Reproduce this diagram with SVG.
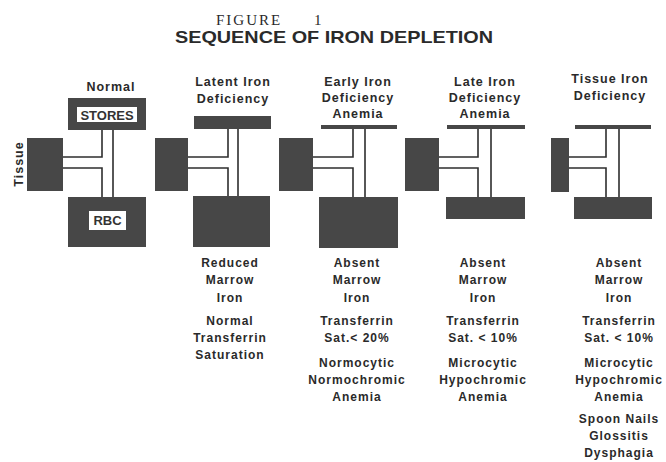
<svg xmlns="http://www.w3.org/2000/svg" width="666" height="462" viewBox="0 0 666 462">
<style>
.blk{fill:#474747}
.lbl{fill:#fff}
.ln{fill:none;stroke:#2e2e2e;stroke-width:1.6}
text{font-family:"Liberation Sans",Arial,sans-serif;fill:#2a2a2a;text-anchor:middle}
.h{font-size:12.5px;font-weight:bold;letter-spacing:1px}
.b{font-size:12px;font-weight:bold;letter-spacing:1px}
.in{font-size:13px;font-weight:bold;fill:#333}
</style>
<rect width="666" height="462" fill="#fff"/>
<text x="216" y="25" style="font-family:'Liberation Serif',serif;font-size:15px;text-anchor:start;letter-spacing:2px">FIGURE<tspan x="314">1</tspan></text>
<text x="334" y="43" style="font-size:17px;font-weight:bold" textLength="318" lengthAdjust="spacingAndGlyphs">SEQUENCE OF IRON DEPLETION</text>
<text class="h" transform="translate(23,164) rotate(-90)">Tissue</text>

<g id="connectors">
<path class="ln" d="M102,130 V157 H63 M63,168 H102 V197 M113,130 V197"/>
<path class="ln" d="M228,129 V157 H188 M188,168 H228 V196 M238,129 V196"/>
<path class="ln" d="M353,129 V157 H313 M313,168 H353 V197 M365,129 V197"/>
<path class="ln" d="M478,129 V157 H439 M439,168 H478 V197 M491,129 V197"/>
<path class="ln" d="M606,129 V157 H569 M569,168 H606 V197 M619,129 V197"/>
</g>

<g id="normal">
<text class="h" x="111" y="91">Normal</text>
<rect id="stores1" class="blk" x="68" y="98" width="78" height="32"/>
<rect class="lbl" x="77" y="107" width="60" height="15"/>
<text class="in" x="107" y="119.5">STORES</text>
<rect id="tissue1" class="blk" x="27" y="138" width="36" height="53"/>
<rect id="rbc1" class="blk" x="68" y="197" width="78" height="50"/>
<rect class="lbl" x="89" y="211" width="37" height="19"/>
<text class="in" x="107.5" y="225">RBC</text>
</g>

<g id="latent">
<text class="h" x="233" y="86">Latent Iron</text>
<text class="h" x="233" y="103">Deficiency</text>
<rect class="blk" x="194" y="116" width="77" height="13"/>
<rect class="blk" x="155" y="138" width="33" height="53"/>
<rect class="blk" x="193" y="196" width="77" height="51"/>
<text class="b" x="230" y="267">Reduced</text>
<text class="b" x="230" y="284">Marrow</text>
<text class="b" x="230" y="302">Iron</text>
<text class="b" x="230" y="325">Normal</text>
<text class="b" x="230" y="342">Transferrin</text>
<text class="b" x="230" y="359">Saturation</text>
</g>

<g id="early">
<text class="h" x="358" y="86">Early Iron</text>
<text class="h" x="358" y="102">Deficiency</text>
<text class="h" x="358" y="118">Anemia</text>
<rect class="blk" x="321" y="125" width="76" height="4"/>
<rect class="blk" x="279" y="138" width="34" height="53"/>
<rect class="blk" x="319" y="197" width="79" height="51"/>
<text class="b" x="357" y="267">Absent</text>
<text class="b" x="357" y="284">Marrow</text>
<text class="b" x="357" y="302">Iron</text>
<text class="b" x="357" y="325">Transferrin</text>
<text class="b" x="357" y="342">Sat.&lt; 20%</text>
<text class="b" x="357" y="367">Normocytic</text>
<text class="b" x="357" y="384">Normochromic</text>
<text class="b" x="357" y="401">Anemia</text>
</g>

<g id="late">
<text class="h" x="485" y="86">Late Iron</text>
<text class="h" x="485" y="102">Deficiency</text>
<text class="h" x="485" y="118">Anemia</text>
<rect class="blk" x="447" y="125" width="78" height="4"/>
<rect class="blk" x="405" y="138" width="34" height="53"/>
<rect class="blk" x="446" y="197" width="79" height="22"/>
<text class="b" x="483" y="267">Absent</text>
<text class="b" x="483" y="284">Marrow</text>
<text class="b" x="483" y="302">Iron</text>
<text class="b" x="483" y="325">Transferrin</text>
<text class="b" x="483" y="342">Sat. &lt; 10%</text>
<text class="b" x="483" y="367">Microcytic</text>
<text class="b" x="483" y="384">Hypochromic</text>
<text class="b" x="483" y="401">Anemia</text>
</g>

<g id="tissue">
<text class="h" x="610" y="83">Tissue Iron</text>
<text class="h" x="610" y="100">Deficiency</text>
<rect class="blk" x="575" y="125" width="76" height="4"/>
<rect class="blk" x="551" y="138" width="18" height="54"/>
<rect class="blk" x="574" y="197" width="78" height="22"/>
<text class="b" x="619" y="267">Absent</text>
<text class="b" x="619" y="284">Marrow</text>
<text class="b" x="619" y="302">Iron</text>
<text class="b" x="619" y="325">Transferrin</text>
<text class="b" x="619" y="342">Sat. &lt; 10%</text>
<text class="b" x="619" y="367">Microcytic</text>
<text class="b" x="619" y="384">Hypochromic</text>
<text class="b" x="619" y="401">Anemia</text>
<text class="b" x="619" y="423">Spoon Nails</text>
<text class="b" x="619" y="440">Glossitis</text>
<text class="b" x="619" y="457">Dysphagia</text>
</g>
</svg>
